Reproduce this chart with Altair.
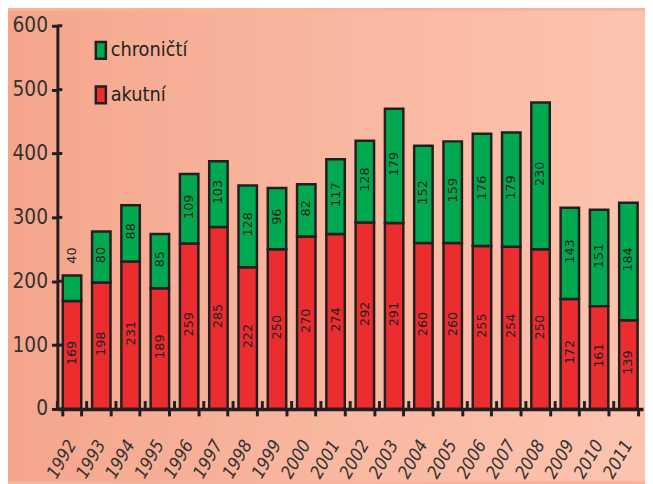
import altair as alt
import pandas as pd

years = [str(y) for y in range(1992, 2012)]
akutni = [169, 198, 231, 189, 259, 285, 222, 250, 270, 274, 292, 291, 260, 260, 255, 254, 250, 172, 161, 139]
chronicti = [40, 80, 88, 85, 109, 103, 128, 96, 82, 117, 128, 179, 152, 159, 176, 179, 230, 143, 151, 184]
series = ["chroničtí", "akutní"]
colors = ["#00a84f", "#ec2d30"]
y_ticks = [0, 100, 200, 300, 400, 500, 600]

rows = []
for i, yr in enumerate(years):
    rows.append({"year": yr, "typ": "akutní", "value": akutni[i], "ord": 0})
    rows.append({"year": yr, "typ": "chroničtí", "value": chronicti[i], "ord": 1})
df = pd.DataFrame(rows)

W, H = 593, 388
PAD = {"left": 50, "top": 15, "right": 2, "bottom": 73}
NARROW = "Liberation Sans Narrow, DejaVu Sans Condensed, sans-serif"
INK = "#231f20"

xscale = alt.Scale(domain=years, paddingInner=0.37, paddingOuter=0.185)
yscale = alt.Scale(domain=[0, 600], nice=False)

x_axis = alt.Axis(
    title=None, labelAngle=-60, labelAlign="right", labelBaseline="middle",
    labelFont=NARROW, labelFontStyle="italic", labelFontSize=18, labelColor="#333333",
    labelPadding=26, tickBand="extent", tickSize=7, tickWidth=3, tickColor=INK,
    domainColor=INK, domainWidth=3.5, zindex=1,
)
y_axis = alt.Axis(
    title=None, values=y_ticks, labelFont=NARROW, labelFontSize=21, labelColor="#333333",
    labelPadding=4, tickSize=6, tickWidth=3, tickColor=INK, domainColor=INK,
    domainWidth=3, grid=False, zindex=1,
)

X = alt.X("year:N", sort=years, scale=xscale, axis=x_axis)

bg = alt.Chart(alt.Data(values=[{"a": 1}])).mark_rect(
    fill={
        "gradient": "linear", "x1": 0, "x2": 1, "y1": 0, "y2": 0,
        "stops": [
            {"offset": 0, "color": "#f5a58c"},
            {"offset": 0.5, "color": "#f9b7a0"},
            {"offset": 1, "color": "#fcc4af"},
        ],
    }
).encode(
    x=alt.value(-PAD["left"]), x2=alt.value(W + PAD["right"]),
    y=alt.value(-PAD["top"]), y2=alt.value(H + PAD["bottom"]),
)

base = alt.Chart(df)

bars = base.mark_bar(stroke=INK, strokeWidth=2.5).encode(
    x=X,
    y=alt.Y("value:Q", stack="zero", scale=yscale, axis=y_axis),
    color=alt.Color(
        "typ:N",
        scale=alt.Scale(domain=series, range=colors),
        legend=alt.Legend(
            title=None, orient="none", legendX=34, legendY=15, padding=0,
            symbolType="M-0.6,-1L0.6,-1L0.6,1L-0.6,1Z", symbolSize=289,
            symbolStrokeColor=INK, symbolStrokeWidth=2.5, symbolOpacity=1,
            labelFont=NARROW, labelFontSize=20, labelColor=INK, labelOffset=0,
            rowPadding=17, zindex=1,
        ),
    ),
    order=alt.Order("ord:Q", sort="ascending"),
)

stacked = base.transform_stack(
    stack="value", groupby=["year"], as_=["y0", "y1"],
    sort=[alt.SortField("ord", order="ascending")],
).transform_calculate(mid="(datum.y0 + datum.y1) / 2")

main_text = stacked.transform_filter("datum.value >= 50").mark_text(
    angle=270, align="center", baseline="middle", font="DejaVu Sans",
    fontSize=13, color=INK, dx=2,
).encode(
    x=X,
    y=alt.Y("mid:Q", scale=yscale, axis=y_axis),
    text="value:Q",
)

small_text = stacked.transform_filter("datum.value < 50").mark_text(
    angle=270, align="left", baseline="middle", font="DejaVu Sans",
    fontSize=13, color=INK, dx=12,
).encode(
    x=X,
    y=alt.Y("y1:Q", scale=yscale, axis=y_axis),
    text="value:Q",
)

yticks_in = alt.Chart(pd.DataFrame({"t": y_ticks})).mark_rule(
    color=INK, strokeWidth=3
).encode(
    y=alt.Y("t:Q", scale=yscale, axis=y_axis),
    x=alt.value(0), x2=alt.value(5),
)

xticks_in = base.transform_filter("datum.ord == 0").mark_rule(
    color=INK, strokeWidth=3, xOffset=-5.5
).encode(
    x=alt.X("year:N", sort=years, scale=xscale, axis=x_axis, bandPosition=0),
    y=alt.value(H), y2=alt.value(H - 8),
)

chart = alt.layer(bg, bars, main_text, small_text, yticks_in, xticks_in).properties(
    width=W, height=H,
    autosize=alt.AutoSizeParams(type="none"),
    padding=PAD,
    background="#f8b39b",
).configure_view(strokeWidth=0)

chart.save("out.html", embed_options={"renderer": "svg", "actions": False})
